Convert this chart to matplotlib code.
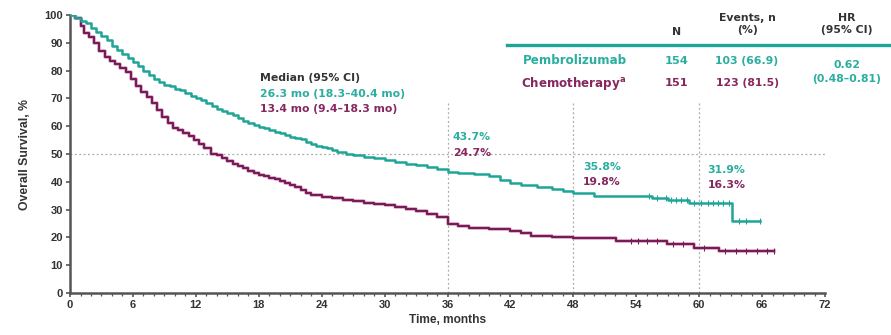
import matplotlib
matplotlib.use("Agg")
import matplotlib.pyplot as plt
import numpy as np

# --- данные ---
pembro_t = [0, 0.5, 1.0, 1.5, 2.0, 2.5, 3.0, 3.5, 4.0, 4.5, 5.0, 5.5, 6.0, 6.5, 7.0,
            7.5, 8.0, 8.5, 9.0, 9.5, 10.0, 10.5, 11.0, 11.5, 12.0, 12.5, 13.0, 13.5,
            14.0, 14.5, 15.0, 15.5, 16.0, 16.5, 17.0, 17.5, 18.0, 18.5, 19.0, 19.5,
            20.0, 20.5, 21.0, 21.5, 22.0, 22.5, 23.0, 23.5, 24.0, 24.5, 25.0, 25.5,
            26.3, 27.0, 28.0, 29.0, 30.0, 31.0, 32.0, 33.0, 34.0, 35.0, 36.0, 37.0,
            38.5, 40.0, 41.0, 42.0, 43.0, 44.5, 46.0, 47.0, 48.0, 50.0, 55.5, 57.0,
            59.0, 63.1, 65.8]
pembro_s = [100, 99, 98, 97, 95.5, 94, 92.5, 91, 89, 87.5, 86, 84.5, 83, 81.5, 80,
            78.5, 77, 76, 75, 74.3, 73.5, 73, 72, 70.8, 70, 69.5, 68.5, 67.3,
            66.2, 65.5, 64.8, 64, 63, 62, 61.2, 60.5, 59.8, 59.2, 58.5, 58,
            57.5, 57, 56.3, 55.8, 55.3, 54.5, 53.5, 53, 52.5, 52, 51.5, 50.8,
            50, 49.5, 49, 48.5, 47.8, 47, 46.5, 46, 45.2, 44.5, 43.7, 43.3,
            42.8, 42, 40.5, 39.5, 38.7, 38.2, 37.5, 36.8, 35.8, 35.0, 34.3, 33.5,
            32.3, 25.9, 25.9]

chemo_t = [0, 0.5, 1.0, 1.3, 1.8, 2.3, 2.8, 3.3, 3.8, 4.3, 4.8, 5.3, 5.8, 6.3, 6.8,
           7.3, 7.8, 8.3, 8.8, 9.3, 9.8, 10.3, 10.8, 11.3, 11.8, 12.3, 12.8, 13.4,
           14.0, 14.5, 15.0, 15.5, 16.0, 16.5, 17.0, 17.5, 18.0, 18.5, 19.0, 19.5,
           20.0, 20.5, 21.0, 21.5, 22.0, 22.5, 23.0, 24.0, 25.0, 26.0, 27.0, 28.0,
           29.0, 30.0, 31.0, 32.0, 33.0, 34.0, 35.0, 36.0, 37.0, 38.0, 40.0, 42.0,
           43.0, 44.0, 46.0, 48.0, 52.1, 56.9, 59.5, 61.9, 67.1]
chemo_s = [100, 99, 96, 93.5, 92, 90, 87, 85, 83.5, 82.5, 81, 79.5, 77, 74.5, 72.5,
           70.5, 68.5, 66, 63.5, 61, 59.5, 58.5, 57.5, 56.5, 55, 53.5, 52, 50,
           49.5, 48.5, 47.5, 46.5, 45.8, 45, 44, 43.3, 42.5, 42, 41.5, 41,
           40.3, 39.5, 39, 38, 37, 36, 35.3, 34.5, 34, 33.5, 33, 32.5,
           32, 31.5, 31, 30.3, 29.5, 28.5, 27.5, 24.7, 24.2, 23.5, 23, 22.3,
           21.5, 20.5, 20, 19.8, 18.8, 17.6, 16.3, 15.0, 15.0]

pembro_cens = [55.2, 56.0, 56.8, 57.3, 57.8, 58.3, 58.8, 59.5, 60.2, 60.8, 61.3,
               61.8, 62.3, 62.8, 63.8, 64.5, 65.8]
chemo_cens = [53.5, 54.2, 55.0, 56.0, 57.5, 58.5, 60.5, 62.5, 63.5, 64.5, 65.5,
              66.5, 67.1]

landmarks = [36, 48, 60]
pembro_lm = ["43.7%", "35.8%", "31.9%"]
chemo_lm = ["24.7%", "19.8%", "16.3%"]

TEAL = "#1fa596"
PLUM = "#761d57"
TEAL_TXT = "#2aae9f"
PLUM_TXT = "#86285f"
GRAY = "#333333"
NARROW = ['Liberation Sans Narrow', 'Liberation Sans', 'DejaVu Sans']

plt.rcParams['font.family'] = ['DejaVu Sans']

fig = plt.figure(figsize=(8.91, 3.35), dpi=100)
ax = fig.add_axes([0.0786, 0.1254, 0.8474, 0.8296])


def km_value(ts, ss, t):
    # значение ступенчатой кривой в момент t
    idx = np.searchsorted(ts, t, side='right') - 1
    return ss[max(idx, 0)]


# ориентиры
ax.axhline(50, color="#aaaaaa", lw=0.9, ls=(0, (1.5, 2)), zorder=1)
for lm in landmarks:
    ax.plot([lm, lm], [0, 69], color="#aaaaaa", lw=0.9, ls=(0, (1.5, 2)), zorder=1)

# кривые KM
ax.step(chemo_t, chemo_s, where='post', color="#d88cb8", lw=2.8, zorder=2, alpha=0.55)
ax.step(chemo_t, chemo_s, where='post', color=PLUM, lw=1.6, zorder=3)
ax.step(pembro_t, pembro_s, where='post', color=TEAL, lw=1.8, zorder=4)

ax.plot(pembro_cens, [km_value(pembro_t, pembro_s, t) for t in pembro_cens],
        ls='none', marker='|', ms=4, mew=0.8, color=TEAL, zorder=5)
ax.plot(chemo_cens, [km_value(chemo_t, chemo_s, t) for t in chemo_cens],
        ls='none', marker='|', ms=4, mew=0.8, color=PLUM, zorder=5)

# оси
ax.set_xlim(0, 72)
ax.set_ylim(0, 100)
for s in ['top', 'right']:
    ax.spines[s].set_visible(False)
for s in ['left', 'bottom']:
    ax.spines[s].set_color("#555555")
    ax.spines[s].set_linewidth(1.8)
ax.set_xticks(np.arange(0, 73, 6))
ax.set_xticks(np.arange(0, 73, 1), minor=True)
ax.set_yticks(np.arange(0, 101, 10))
ax.tick_params(axis='both', which='major', length=3, width=1.2, color="#555555",
               labelsize=8, labelcolor=GRAY, pad=2)
ax.tick_params(axis='x', which='minor', length=2, width=0.9, color="#555555")
for lab in ax.get_xticklabels() + ax.get_yticklabels():
    lab.set_family(NARROW)
    lab.set_fontweight('bold')

ax.set_xlabel("Time, months", fontsize=8.6, fontweight='bold', color=GRAY, labelpad=3,
              family=NARROW)
ax.set_ylabel("Overall Survival, %", fontsize=8.8, fontweight='bold', color=GRAY,
              labelpad=10, family=NARROW)

# медианы
FS = 7.8
ax.text(18.1, 77.3, "Median (95% CI)", fontsize=FS, fontweight='bold', color=GRAY,
        va='center')
ax.text(18.1, 71.6, "26.3 mo (18.3\u201340.4 mo)", fontsize=FS, fontweight='bold',
        color=TEAL_TXT, va='center')
ax.text(18.1, 66.2, "13.4 mo (9.4\u201318.3 mo)", fontsize=FS, fontweight='bold',
        color=PLUM_TXT, va='center')

# проценты на ориентирах
lm_pos = [(36.5, 56.1, 50.4), (48.9, 45.4, 40.0), (60.8, 44.2, 38.8)]
for (x, y1, y2), a, b in zip(lm_pos, pembro_lm, chemo_lm):
    ax.text(x, y1, a, fontsize=FS, fontweight='bold', color=TEAL_TXT, va='center')
    ax.text(x, y2, b, fontsize=FS, fontweight='bold', color=PLUM_TXT, va='center')


# таблица справа сверху
def fx(px):
    return px / 891


def fy(py):
    return 1 - py / 335


fig.text(fx(677), fy(32), "N", fontsize=FS, fontweight='bold', color=GRAY,
         ha='center', va='center')
fig.text(fx(747), fy(24), "Events, n\n(%)", fontsize=FS, fontweight='bold',
         color=GRAY, ha='center', va='center', linespacing=1.3)
fig.text(fx(847), fy(24), "HR\n(95% CI)", fontsize=FS, fontweight='bold',
         color=GRAY, ha='center', va='center', linespacing=1.3)
fig.add_artist(plt.Line2D([fx(507), fx(891)], [fy(45), fy(45)], color=TEAL, lw=2.4))

fig.text(fx(523), fy(61), "Pembrolizumab", fontsize=8.6, fontweight='bold',
         color=TEAL_TXT, ha='left', va='center')
fig.text(fx(677), fy(61), "154", fontsize=8.2, fontweight='bold', color=TEAL_TXT,
         ha='center', va='center')
fig.text(fx(747), fy(61), "103 (66.9)", fontsize=FS, fontweight='bold',
         color=TEAL_TXT, ha='center', va='center')
fig.text(fx(847), fy(65), "0.62", fontsize=FS, fontweight='bold', color=TEAL_TXT,
         ha='center', va='center')

fig.text(fx(521), fy(83), "Chemotherapy$^{\\mathbf{a}}$", fontsize=8.6,
         fontweight='bold', color=PLUM_TXT, ha='left', va='center')
fig.text(fx(677), fy(83), "151", fontsize=8.2, fontweight='bold', color=PLUM_TXT,
         ha='center', va='center')
fig.text(fx(747), fy(83), "123 (81.5)", fontsize=FS, fontweight='bold',
         color=PLUM_TXT, ha='center', va='center')
fig.text(fx(847), fy(79), "(0.48\u20130.81)", fontsize=FS, fontweight='bold',
         color=TEAL_TXT, ha='center', va='center')

fig.savefig("out.png", dpi=100, facecolor='white')
